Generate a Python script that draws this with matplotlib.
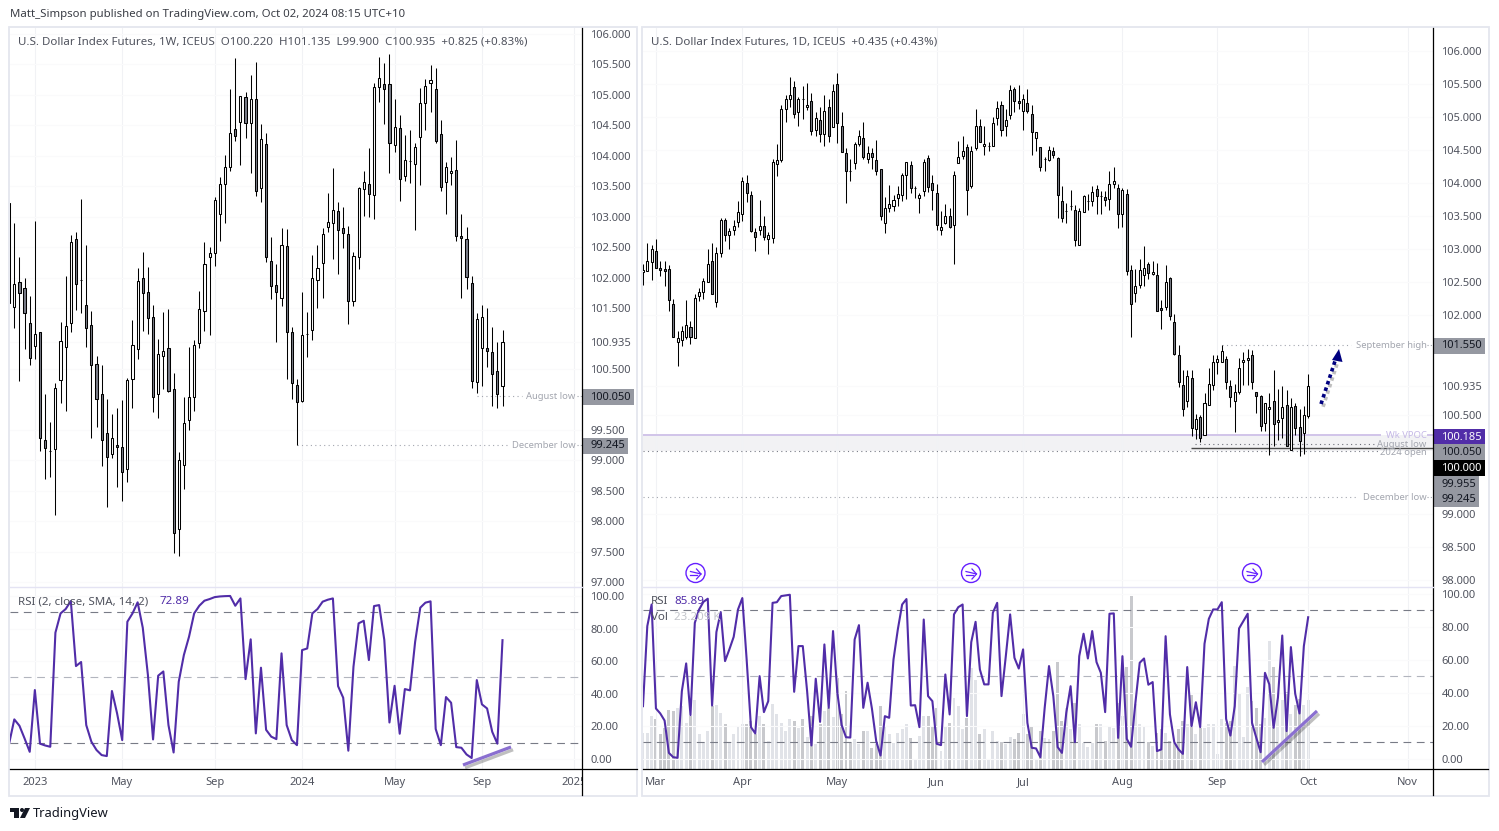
import numpy as np
from matplotlib import pyplot as plt
from matplotlib.patches import Rectangle, Circle, Polygon
from matplotlib import patheffects as pe

plt.rcParams['font.family'] = ['Noto Sans', 'DejaVu Sans']

# weekly chart
w_open = [103.22, 101.52, 101.93, 101.83, 101.25, 100.88, 101.11, 99.33, 99.15, 99.19, 100.32, 100.86, 101.25, 102.63, 101.96, 101.55, 101.22, 100.58, 100.09, 99.45, 99.10, 99.25, 99.22, 98.86, 100.33, 100.83, 101.99, 101.76, 101.35, 100.09, 100.71, 100.84, 100.17, 97.87, 98.92, 99.66, 100.04, 100.93, 101.45, 102.34, 102.40, 103.04, 103.54, 103.82, 104.44, 104.55, 104.97, 104.54, 104.93, 103.47, 104.19, 102.27, 101.88, 101.67, 102.52, 101.11, 100.24, 99.97, 101.07, 101.14, 101.96, 102.24, 102.83, 102.90, 103.09, 102.81, 102.72, 101.62, 102.34, 103.45, 103.54, 103.36, 105.13, 105.18, 105.18, 104.18, 104.46, 103.67, 103.91, 103.87, 104.31, 104.87, 105.20, 105.10, 104.36, 103.57, 103.72, 103.77, 102.68, 102.63, 101.91, 100.29, 100.84, 100.84, 100.78, 100.47, 100.22]
w_high = [103.22, 102.90, 102.34, 101.99, 101.70, 102.93, 101.11, 100.09, 99.63, 100.27, 101.27, 102.03, 102.70, 102.75, 103.29, 102.54, 101.45, 100.71, 100.56, 100.01, 99.76, 99.86, 99.99, 100.35, 101.30, 102.16, 102.42, 102.17, 101.55, 100.99, 101.43, 101.48, 100.43, 99.14, 100.04, 100.86, 100.97, 101.78, 102.58, 102.50, 103.32, 103.65, 104.01, 105.10, 105.61, 104.98, 105.05, 105.33, 105.54, 104.52, 104.37, 102.67, 102.22, 102.82, 102.80, 101.19, 100.33, 101.76, 101.43, 102.37, 102.54, 102.82, 103.39, 103.80, 103.24, 103.16, 102.85, 102.42, 103.49, 103.75, 104.13, 105.20, 105.62, 105.52, 105.67, 104.93, 104.67, 104.34, 104.42, 104.21, 105.11, 105.26, 105.49, 105.44, 104.59, 103.90, 103.98, 104.26, 103.04, 102.83, 102.03, 101.42, 101.55, 101.50, 101.19, 100.94, 101.135]
w_low = [101.58, 101.17, 100.30, 100.83, 100.56, 100.66, 99.15, 98.69, 98.73, 98.10, 99.94, 99.81, 101.11, 101.47, 101.42, 100.86, 99.37, 99.55, 98.91, 98.23, 99.04, 98.57, 98.33, 98.64, 99.86, 100.66, 101.12, 101.07, 99.79, 99.69, 100.17, 100.12, 97.48, 97.43, 98.53, 99.50, 99.81, 100.84, 101.12, 101.06, 102.19, 102.60, 102.90, 103.75, 104.24, 103.85, 104.29, 103.72, 103.34, 103.24, 102.26, 101.65, 100.94, 101.53, 100.33, 100.01, 99.25, 99.96, 100.70, 100.98, 101.50, 101.66, 102.75, 102.31, 102.06, 102.49, 101.24, 101.53, 102.14, 103.01, 103.00, 102.96, 104.88, 104.52, 103.72, 104.06, 103.26, 103.59, 103.55, 102.78, 103.52, 104.42, 104.72, 104.21, 103.42, 103.04, 103.52, 102.60, 101.66, 101.81, 100.19, 100.11, 100.22, 100.53, 99.89, 99.86, 99.90]
w_close = [101.58, 101.89, 101.75, 101.42, 100.68, 101.07, 99.37, 99.20, 99.16, 100.19, 100.96, 101.21, 102.58, 101.89, 101.96, 101.17, 100.56, 100.01, 99.33, 99.05, 99.37, 99.22, 98.81, 100.32, 100.89, 101.94, 101.75, 101.34, 100.04, 100.75, 100.79, 100.14, 97.81, 99.00, 99.61, 100.04, 100.89, 101.48, 102.22, 102.40, 103.27, 103.54, 103.82, 104.37, 104.32, 104.98, 104.54, 104.93, 103.42, 104.28, 102.34, 101.86, 101.76, 102.54, 101.11, 100.27, 99.96, 101.06, 101.07, 101.99, 102.16, 102.72, 102.91, 103.11, 102.78, 102.73, 101.62, 102.35, 103.47, 103.57, 103.37, 105.13, 105.28, 105.10, 104.21, 104.47, 103.62, 103.93, 103.91, 104.14, 104.87, 105.15, 105.24, 104.24, 103.49, 103.82, 103.75, 102.68, 102.65, 102.01, 100.30, 101.32, 101.35, 100.79, 100.42, 100.09, 100.935]
w_rsi = [9.6, 24.3, 20.4, 12.6, 4.4, 42.3, 9.4, 8.3, 7.5, 77.5, 89.3, 92.0, 96.9, 57.0, 59.5, 20.8, 10.6, 5.5, 2.4, 1.8, 41.7, 28.0, 11.6, 84.2, 89.3, 96.1, 80.5, 51.5, 12.0, 51.1, 53.7, 20.8, 4.0, 47.4, 63.8, 75.0, 89.3, 94.0, 97.1, 98.1, 99.3, 99.7, 99.9, 100.0, 94.0, 98.5, 49.0, 73.4, 15.7, 56.0, 17.9, 13.7, 12.2, 64.8, 20.8, 11.6, 8.5, 66.8, 67.8, 89.3, 92.0, 96.5, 97.7, 98.5, 44.7, 37.6, 5.1, 56.6, 83.2, 84.8, 60.7, 93.8, 94.4, 73.0, 22.4, 44.9, 15.5, 42.9, 42.1, 71.9, 92.8, 95.9, 96.7, 18.4, 8.5, 38.0, 34.5, 7.3, 6.9, 2.8, 0.6, 48.4, 33.5, 31.0, 16.7, 9.4, 72.89]

# daily chart
d_open = [102.65, 102.67, 102.80, 102.97, 102.71, 102.70, 102.70, 102.17, 101.60, 101.62, 101.68, 101.83, 101.65, 102.29, 102.35, 102.50, 102.82, 102.20, 102.95, 103.45, 103.21, 103.29, 103.42, 103.53, 104.01, 103.82, 103.26, 103.29, 103.35, 103.15, 103.17, 104.29, 104.35, 105.12, 105.27, 105.45, 105.07, 105.28, 105.16, 105.24, 104.80, 104.95, 104.74, 105.16, 104.85, 105.50, 104.87, 104.45, 104.19, 104.30, 104.59, 104.69, 104.36, 104.45, 104.35, 104.22, 103.39, 103.62, 103.65, 103.77, 103.82, 104.12, 104.27, 103.92, 103.77, 103.88, 104.38, 104.01, 103.85, 103.29, 103.39, 103.51, 103.36, 104.30, 104.41, 104.54, 103.95, 104.53, 104.86, 104.56, 104.57, 104.56, 104.98, 105.18, 104.86, 105.03, 105.42, 105.25, 105.09, 105.22, 105.04, 104.69, 104.54, 104.36, 104.35, 104.48, 104.38, 103.73, 103.58, 103.66, 103.59, 103.06, 103.56, 103.73, 103.73, 103.91, 103.80, 103.79, 103.76, 103.99, 103.92, 103.53, 103.83, 102.68, 102.34, 102.46, 102.61, 102.77, 102.62, 102.61, 102.11, 102.12, 102.56, 101.90, 101.40, 100.94, 100.70, 101.05, 100.28, 100.46, 100.19, 100.64, 100.94, 101.30, 101.30, 101.34, 100.93, 100.70, 100.84, 101.29, 101.32, 101.40, 100.84, 100.78, 100.37, 100.58, 100.70, 100.38, 100.44, 100.64, 99.96, 100.63, 100.31, 100.22, 100.47]
d_high = [102.78, 103.09, 103.06, 103.15, 102.83, 102.82, 102.76, 102.25, 101.77, 101.84, 102.23, 101.91, 102.32, 102.41, 102.56, 103.00, 103.10, 103.03, 103.48, 103.47, 103.32, 103.45, 103.73, 104.09, 104.12, 103.88, 103.32, 103.74, 103.50, 103.26, 104.36, 104.59, 105.18, 105.33, 105.60, 105.54, 105.30, 105.47, 105.51, 105.36, 105.07, 105.15, 105.34, 105.28, 105.50, 105.66, 105.07, 104.53, 104.36, 104.62, 104.81, 104.92, 104.56, 104.53, 104.66, 104.22, 103.79, 103.97, 103.82, 103.95, 104.16, 104.32, 104.33, 103.95, 103.85, 104.36, 104.43, 104.13, 103.99, 103.58, 103.68, 103.62, 104.19, 104.64, 104.72, 104.59, 104.57, 105.12, 104.97, 104.86, 104.63, 105.00, 105.24, 105.24, 105.12, 105.48, 105.45, 105.48, 105.35, 105.42, 105.18, 104.77, 104.54, 104.39, 104.57, 104.54, 104.39, 103.95, 103.70, 103.89, 103.67, 103.62, 103.82, 103.83, 103.95, 103.97, 103.88, 103.88, 104.19, 104.24, 103.99, 103.92, 103.91, 102.76, 102.70, 102.85, 103.05, 102.80, 102.82, 102.79, 102.23, 102.76, 102.58, 102.02, 101.55, 101.18, 101.18, 101.17, 100.51, 100.50, 100.82, 101.20, 101.40, 101.40, 101.55, 101.38, 101.02, 100.96, 101.35, 101.44, 101.49, 101.47, 100.84, 100.79, 100.68, 100.82, 101.17, 100.88, 100.93, 100.87, 100.75, 100.68, 100.59, 100.63, 101.12]
d_low = [102.46, 102.67, 102.53, 102.71, 102.60, 102.45, 102.07, 101.68, 101.23, 101.54, 101.64, 101.57, 101.65, 102.22, 102.25, 102.50, 102.33, 102.12, 102.89, 103.13, 103.01, 103.21, 103.33, 103.43, 103.71, 103.26, 102.98, 103.21, 103.14, 102.93, 103.09, 104.11, 104.32, 104.93, 105.16, 104.98, 104.87, 104.97, 105.11, 104.73, 104.72, 104.63, 104.57, 104.63, 104.85, 104.61, 104.47, 103.70, 104.04, 104.22, 104.57, 104.36, 104.30, 104.22, 104.13, 103.45, 103.25, 103.56, 103.58, 103.66, 103.73, 103.76, 103.85, 103.78, 103.55, 103.81, 103.87, 103.60, 103.29, 103.22, 103.38, 103.32, 102.77, 104.30, 104.36, 103.52, 103.92, 104.50, 104.63, 104.43, 104.48, 104.56, 104.88, 104.71, 104.72, 104.97, 105.07, 105.12, 104.80, 105.06, 104.42, 104.48, 104.19, 104.18, 104.33, 104.38, 103.47, 103.42, 103.39, 103.59, 103.05, 103.06, 103.56, 103.59, 103.65, 103.54, 103.53, 103.65, 103.59, 103.92, 103.32, 103.33, 102.61, 101.67, 102.20, 102.41, 102.44, 102.55, 102.61, 102.06, 101.80, 102.08, 101.93, 101.40, 100.92, 100.48, 100.62, 100.17, 100.13, 100.09, 100.19, 100.64, 100.87, 101.12, 101.30, 100.88, 100.61, 100.23, 100.81, 100.94, 100.94, 100.88, 100.53, 100.25, 100.25, 99.88, 100.02, 100.12, 100.14, 100.03, 99.96, 100.19, 99.87, 99.90, 100.44]
d_close = [102.69, 102.82, 103.01, 102.71, 102.69, 102.67, 102.24, 101.68, 101.65, 101.77, 101.85, 101.68, 102.27, 102.35, 102.52, 102.77, 102.33, 102.95, 103.45, 103.21, 103.27, 103.35, 103.56, 104.04, 103.85, 103.28, 103.18, 103.35, 103.18, 103.21, 104.32, 104.35, 105.12, 105.28, 105.34, 105.04, 105.27, 105.27, 105.19, 104.79, 104.98, 104.74, 105.09, 104.72, 105.39, 104.91, 104.47, 104.19, 104.18, 104.59, 104.71, 104.39, 104.45, 104.39, 104.18, 103.50, 103.63, 103.68, 103.74, 103.83, 104.12, 104.32, 103.92, 103.92, 103.82, 104.32, 103.94, 103.90, 103.36, 103.33, 103.50, 103.33, 104.13, 104.39, 104.48, 103.89, 104.48, 104.86, 104.63, 104.59, 104.57, 104.91, 105.13, 104.80, 104.95, 105.41, 105.25, 105.22, 105.27, 105.09, 104.77, 104.77, 104.24, 104.36, 104.50, 104.42, 103.82, 103.47, 103.58, 103.66, 103.14, 103.58, 103.80, 103.73, 103.86, 103.80, 103.80, 103.74, 103.99, 104.04, 103.54, 103.89, 102.67, 102.17, 102.44, 102.68, 102.71, 102.64, 102.65, 102.06, 102.08, 102.50, 101.99, 101.41, 100.99, 100.59, 101.08, 100.29, 100.43, 100.15, 100.67, 100.96, 101.30, 101.34, 101.46, 100.99, 100.76, 100.84, 101.20, 101.32, 101.35, 100.99, 100.78, 100.32, 100.67, 100.61, 100.35, 100.41, 100.62, 100.03, 100.62, 100.29, 100.10, 100.49, 100.93]
d_rsi = [32.0, 80.5, 93.6, 30.6, 27.6, 23.3, 3.7, 1.1, 0.7, 41.1, 57.9, 26.6, 82.5, 90.6, 95.2, 97.1, 32.4, 76.9, 89.0, 59.3, 66.4, 74.0, 90.6, 97.5, 60.3, 19.3, 15.5, 50.2, 28.4, 35.05, 94.6, 95.0, 98.7, 99.1, 99.5, 40.7, 68.4, 68.4, 41.1, 8.2, 48.6, 22.5, 69.4, 31.0, 77.5, 40.1, 20.5, 13.2, 13.0, 72.4, 81.1, 31.0, 46.2, 30.6, 10.8, 2.1, 25.96, 24.95, 60.3, 78.5, 93.6, 96.9, 32.4, 32.6, 19.3, 84.5, 38.1, 35.05, 9.2, 8.4, 51.2, 27.0, 87.6, 92.0, 93.6, 26.0, 70.8, 83.1, 54.2, 45.2, 45.2, 88.6, 94.6, 38.1, 62.3, 87.6, 61.3, 54.8, 66.4, 21.9, 6.8, 6.4, 1.1, 31.0, 56.3, 38.1, 7.2, 3.7, 28.0, 44.1, 10.2, 62.3, 75.9, 60.9, 77.5, 58.7, 52.2, 28.4, 88.0, 88.2, 12.8, 62.3, 12.2, 7.4, 34.0, 58.3, 60.9, 45.0, 46.6, 4.8, 5.8, 74.4, 27.0, 10.2, 5.8, 3.1, 55.7, 19.9, 34.4, 19.3, 69.8, 84.9, 90.6, 90.6, 95.0, 24.3, 14.2, 32.0, 79.1, 83.5, 88.0, 21.9, 12.8, 4.1, 52.2, 45.2, 18.9, 37.1, 74.8, 16.9, 67.8, 39.5, 27.6, 68.4, 85.89]
d_vol = [12.3, 12.3, 18.1, 17.0, 11.7, 13.8, 20.1, 19.5, 20.5, 21.3, 15.7, 18.1, 23.2, 12.0, 9.1, 13.0, 21.3, 21.5, 19.0, 15.1, 9.1, 11.7, 14.2, 15.4, 15.1, 16.4, 11.9, 18.1, 15.1, 9.6, 22.1, 18.5, 15.7, 13.0, 16.8, 16.1, 13.8, 16.8, 10.8, 17.8, 8.6, 15.1, 19.8, 20.5, 17.5, 30.7, 18.7, 26.3, 9.3, 10.3, 8.6, 13.0, 13.0, 7.2, 8.5, 21.2, 14.2, 12.0, 8.9, 12.3, 13.4, 15.4, 10.6, 3.5, 11.3, 17.9, 18.1, 14.2, 20.8, 6.2, 14.2, 15.7, 24.2, 21.2, 13.4, 17.4, 34.3, 30.0, 11.7, 13.4, 3.5, 12.7, 9.6, 9.3, 8.3, 11.0, 10.0, 12.3, 18.5, 12.0, 14.7, 3.5, 12.7, 10.6, 10.3, 13.0, 36.1, 16.1, 20.8, 13.4, 22.2, 15.1, 8.9, 7.6, 8.9, 15.1, 15.1, 9.6, 14.4, 14.0, 22.5, 18.1, 34.4, 58.5, 22.1, 15.4, 14.7, 9.3, 7.9, 12.3, 13.4, 12.3, 9.6, 8.9, 13.7, 16.4, 15.4, 24.9, 12.0, 14.0, 14.0, 15.1, 15.1, 5.2, 16.8, 15.7, 16.1, 34.8, 25.6, 11.0, 27.6, 22.9, 20.8, 15.4, 17.4, 43.2, 34.4, 23.2, 23.5, 25.9, 18.5, 21.5, 23.8, 21.5, 23.209]

w_price_ticks = [106, 105.5, 105, 104.5, 104, 103.5, 103, 102.5, 102, 101.5, 100.935, 100.5, 99.5, 99, 98.5, 98, 97.5, 97]
d_price_ticks = [106, 105.5, 105, 104.5, 104, 103.5, 103, 102.5, 102, 100.935, 100.5, 99, 98.5, 98]
rsi_ticks = [100, 80, 60, 40, 20, 0]
rsi_levels = [90, 50, 10]
w_months = ['2023', 'May', 'Sep', '2024', 'May', 'Sep', '2025']
w_month_pos = [4, 21, 39, 56, 74, 91, 109]
d_months = ['Mar', 'Apr', 'May', 'Jun', 'Jul', 'Aug', 'Sep', 'Oct', 'Nov']
d_month_pos = [3, 23, 45, 68, 88, 111, 133, 154, 177]

W, H = 1499, 831
TXT = '#50535e'
FAINT = '#a3a6af'
PURPLE = '#512da8'
UP_COL = '#ffffff'
DOWN_COL = '#787b86'

fig = plt.figure(figsize=(W / 100, H / 100), dpi=100)


def px_axes(x0, y0, x1, y1):
    return fig.add_axes([x0 / W, 1 - y1 / H, (x1 - x0) / W, (y1 - y0) / H])


def candles(ax, x, o, h, l, c, width):
    o, h, l, c = map(np.array, (o, h, l, c))
    ax.vlines(x, l, h, color='black', lw=0.75, zorder=3)
    cols = [UP_COL if b >= a else DOWN_COL for a, b in zip(o, c)]
    ax.bar(x, np.abs(c - o), bottom=np.minimum(o, c), width=width, color=cols,
           edgecolor='black', linewidth=0.75, zorder=4)


def style(ax, xlim, ylim, yticks, fmt, xticks):
    ax.set_xlim(*xlim)
    ax.set_ylim(*ylim)
    ax.yaxis.tick_right()
    ax.set_yticks(yticks, [fmt % t for t in yticks])
    ax.set_xticks(xticks)
    ax.tick_params(length=0, labelsize=8.0, labelcolor=TXT, pad=6)
    ax.grid(True, axis='x', color='#f1f2f5', lw=0.8, zorder=0)
    ax.grid(True, axis='y', color='#fafafb', lw=0.8, zorder=0)
    for s in ax.spines.values():
        s.set_visible(False)


# weekly panes
w_x = np.arange(len(w_open)) - 1
w_xlim = (-0.837, 110.47)
ax1 = px_axes(10, 28, 582, 587)
candles(ax1, w_x, w_open, w_high, w_low, w_close, 0.42)
style(ax1, w_xlim, (96.92, 106.099), w_price_ticks, '%.3f', w_month_pos)
ax1.set_xticklabels([])
ax1.hlines(100.05, 90, 98.8, color=FAINT, lw=0.8, ls=(0, (1, 3)))
ax1.hlines(99.245, 55, 95.9, color=FAINT, lw=0.8, ls=(0, (1, 3)))
ax1.hlines([100.05, 99.245], 109.4, 110.47, color=FAINT, lw=0.8, ls=(0, (1, 2)))
ax1.text(109.2, 100.05, 'August low', color=FAINT, fontsize=6.8, ha='right', va='center')
ax1.text(109.2, 99.245, 'December low', color=FAINT, fontsize=6.8, ha='right', va='center')

ax2 = px_axes(10, 587, 582, 769)
style(ax2, w_xlim, (-6.13, 105.5), rsi_ticks, '%.2f', w_month_pos)
ax2.set_xticklabels(w_months)
for lab, txt in zip(ax2.get_xticklabels(), w_months):
    if txt.startswith('20'):
        lab.set_fontweight('semibold')
ax2.plot(w_x, w_rsi, color=PURPLE, lw=1.5, zorder=5)
for lev in rsi_levels:
    ax2.axhline(lev, color='#787b86' if lev != 50 else '#b2b5be', lw=0.8, ls=(0, (7, 5)), zorder=2)

# daily panes
d_x = np.arange(len(d_open))
d_xlim = (0.005, 182.9)
ax3 = px_axes(643, 28, 1433, 587)
ax3.axhspan(99.955, 100.185, color='#f2f2f4', zorder=1, lw=0)
candles(ax3, d_x, d_open, d_high, d_low, d_close, 0.47)
style(ax3, d_xlim, (97.89, 106.348), d_price_ticks, '%.3f', d_month_pos)
ax3.set_xticklabels([])
ax3.hlines(100.185, 0.12, 170.9, color='#d1c4e9', lw=1.4, zorder=2)
ax3.hlines(100.185, 181.5, 182.9, color='#d1c4e9', lw=1.4, zorder=2)
ax3.hlines(100.0, 126.9, 182.9, color='#4a4a4a', lw=1.0, zorder=2)
ax3.hlines(101.55, 134, 163.9, color=FAINT, lw=0.8, ls=(0, (1, 3)))
ax3.hlines(100.05, 127.8, 169.5, color='#6d6f78', lw=0.8, ls=(0, (1, 3)))
ax3.hlines(99.955, 0.12, 170.2, color='#787b86', lw=0.8, ls=(0, (1, 3)))
ax3.hlines(99.245, 0.12, 165.5, color=FAINT, lw=0.8, ls=(0, (1, 3)))
ax3.hlines([101.55, 99.245], 181.5, 182.9, color=FAINT, lw=0.8, ls=(0, (1, 2)))
ax3.text(181.4, 101.55, 'September high', color=FAINT, fontsize=6.8, ha='right', va='center')
ax3.text(181.4, 100.185, 'Wk VPOC', color='#c5b8e6', fontsize=6.8, ha='right', va='center', zorder=6)
ax3.text(181.4, 100.05, 'August low', color=FAINT, fontsize=6.8, ha='right', va='center', zorder=6)
ax3.text(181.4, 99.93, '2024 open', color=FAINT, fontsize=6.8, ha='right', va='center', zorder=6)
ax3.text(181.4, 99.245, 'December low', color=FAINT, fontsize=6.8, ha='right', va='center')

ax4 = px_axes(643, 587, 1433, 769)
style(ax4, d_xlim, (-6.06, 104.2), rsi_ticks, '%.2f', d_month_pos)
ax4.set_xticklabels(d_months)
ax4.plot(d_x, d_rsi, color=PURPLE, lw=1.5, zorder=5)
for lev in rsi_levels:
    ax4.axhline(lev, color='#787b86' if lev != 50 else '#b2b5be', lw=0.8, ls=(0, (7, 5)), zorder=2)

ax5 = ax4.twinx()
ax4.yaxis.tick_right()
vol_cols = ['#e1e3e8' if b >= a else '#c8c9cd' for a, b in zip(d_open, d_close)]
ax5.bar(d_x, d_vol, width=0.68, color=vol_cols, lw=0)
ax5.set_ylim(0, 61.6)
ax5.set_yticks([])
for s in ax5.spines.values():
    s.set_visible(False)
ax4.set_zorder(ax5.get_zorder() + 1)
ax4.patch.set_visible(False)

# chrome and drawings, in pixel coordinates
ov = fig.add_axes([0, 0, 1, 1], zorder=20)
ov.set_xlim(0, W)
ov.set_ylim(H, 0)
ov.axis('off')
ov.patch.set_alpha(0)

ov.add_patch(Rectangle((582.5, 770), 54, 25, fc='white', ec='none'))
for x0, x1 in ((9.5, 637.5), (642.5, 1489)):
    ov.add_patch(Rectangle((x0, 27), x1 - x0, 769, fc='none', ec='#e4e6ee', lw=1.3))
for x0, xv, x1 in ((10, 582.5, 637), (643, 1433.5, 1488)):
    ov.plot([xv, xv], [28, 795], color='black', lw=0.9)
    ov.plot([x0, x1], [769, 769], color='black', lw=0.9)
    ov.plot([x0, xv], [587, 587], color='#e4e3f3', lw=1.0)

ov.text(10, 14.5, 'Matt_Simpson published on TradingView.com, Oct 02, 2024 08:15 UTC+10',
        color='#3a3d45', fontsize=8.2, va='center')
ov.text(18, 42, 'U.S. Dollar Index Futures, 1W, ICEUS  O100.220  H101.135  L99.900  C100.935  +0.825 (+0.83%)',
        color=TXT, fontsize=8.3, va='center')
ov.text(651, 42, 'U.S. Dollar Index Futures, 1D, ICEUS  +0.435 (+0.43%)',
        color=TXT, fontsize=8.3, va='center')
ov.text(18, 602, 'RSI (2, close, SMA, 14, 2)', color=TXT, fontsize=8.3, va='center')
ov.text(160, 602, '72.89', color=PURPLE, fontsize=8.3, va='center')
ov.text(651, 602, 'RSI', color=TXT, fontsize=8.3, va='center')
ov.text(674, 602, '85.89', color=PURPLE, fontsize=8.3, va='center')
ov.text(651, 618, 'Vol', color=TXT, fontsize=8.3, va='center')
ov.text(674, 618, '23.209 K', color='#c3c5cb', fontsize=8.3, va='center')

# price tags: label, pixel row, left edge, fill, text colour
tags = [('100.050', 396.5, 582.5, '#9598a1', '#131722'), ('99.245', 445.5, 582.5, '#9598a1', '#131722'),
        ('101.550', 345.5, 1433.5, '#9598a1', '#131722'), ('100.185', 436.5, 1433.5, PURPLE, 'white'),
        ('100.050', 452, 1433.5, '#9598a1', '#131722'), ('100.000', 468, 1433.5, '#000000', 'white'),
        ('99.955', 484, 1433.5, '#9598a1', '#131722'), ('99.245', 499, 1433.5, '#9598a1', '#131722')]
for lab, y, x, fc, fg in tags:
    wid = 52 if len(lab) == 7 else 45.5
    ov.add_patch(Rectangle((x, y - 8), wid, 16, fc=fc, ec='none'))
    ov.text(x + 8, y + 0.5, lab, color=fg, fontsize=8.0, va='center',
            fontweight='bold' if fg == 'white' else 'normal')

# trend lines on the RSI panes
shadow = [pe.SimpleLineShadow(offset=(1.5, -2), alpha=0.25), pe.Normal()]
ov.plot([463, 511], [765, 747], color='#8a6fd0', lw=2.3, path_effects=shadow, solid_capstyle='butt')
ov.plot([1262, 1317], [762, 711], color='#8a6fd0', lw=2.3, path_effects=shadow, solid_capstyle='butt')

# dotted arrow to the September high
ov.plot([1321, 1336], [404, 358], color='#000080', lw=2.6, ls=(0, (1, 0.9)), path_effects=shadow)
ov.add_patch(Polygon([(1339, 349), (1332, 360), (1342.5, 362)], fc='#000080', ec='none'))

# session break marks
for cx in (695.5, 971, 1252):
    ov.add_patch(Circle((cx, 573), 9.5, fc='white', ec='#651fff', lw=1.0))
    ov.plot([cx - 5, cx + 5.5], [571.5, 574], color='#651fff', lw=0.9)
    ov.plot([cx + 1, cx + 5.5, cx + 1], [569, 574, 579], color='#651fff', lw=0.9)
    ov.plot([cx - 5, cx + 2], [575, 575], color='#651fff', lw=0.9)

# logo
ov.add_patch(Polygon([(10, 808), (19, 808), (19, 818), (14.5, 818), (14.5, 812), (10, 812)], fc='#131722', ec='none'))
ov.add_patch(Circle((22, 810), 2, fc='#131722', ec='none'))
ov.add_patch(Polygon([(25, 808), (30, 808), (25, 818), (20, 818)], fc='#131722', ec='none'))
ov.text(33, 813.5, 'TradingView', color='#131722', fontsize=9.3, va='center')

fig.savefig('out.png', dpi=100, facecolor='white')
